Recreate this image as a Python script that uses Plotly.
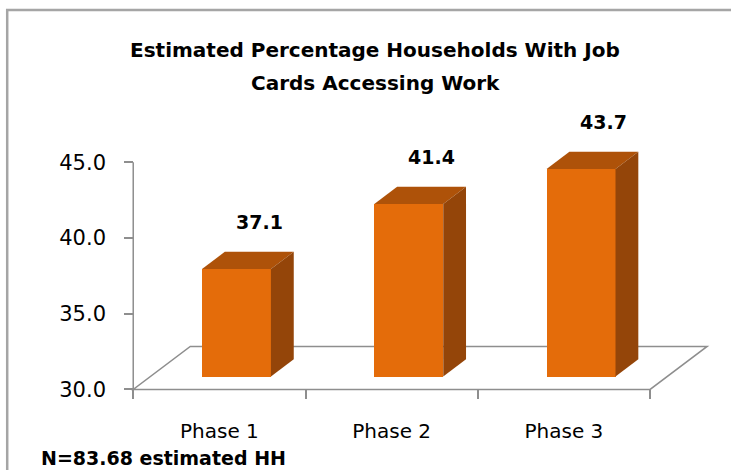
import plotly.graph_objects as go

# ---- data -------------------------------------------------------------
categories = ["Phase 1", "Phase 2", "Phase 3"]
values = [37.1, 41.4, 43.7]
y_tick_values = [30, 35, 40, 45]
y_tick_labels = ["30.0", "35.0", "40.0", "45.0"]
title_lines = ["Estimated Percentage Households With Job", "Cards Accessing Work"]
note_text = "N=83.68 estimated HH"

# ---- layout constants -------------------------------------------------
W, H = 731, 470
X_RANGE = [-0.6, 2.9]
Y_RANGE = [29.5, 47.0]
M_L, M_R, M_T, M_B = 115.8, 12.2, 131.8, 73.4
BASE = 30.0            # value where the floor sits
DEPTH_X = 0.331        # floor depth, category units
DEPTH_Y = 2.84         # floor depth, value units
BAR_W = 0.4
FRONT, BACK = 0.3, 0.7  # bar front/back planes as share of floor depth

FRONT_COL = "#E46C0A"
TOP_COL = "#AE5209"
SIDE_COL = "#944509"
AXIS_COL = "#8E8E8E"
FONT = "DejaVu Sans"

plot_w = W - M_L - M_R
plot_h = H - M_T - M_B


def paper_x(px):
    return (px - M_L) / plot_w


def paper_y(py):
    return (H - M_B - py) / plot_h


x_lo = -0.5
x_hi = len(categories) - 0.5

fig = go.Figure()

# front faces of the bars, pushed into the floor by the front-plane offset
fig.add_trace(go.Bar(
    x=[i + FRONT * DEPTH_X for i in range(len(categories))],
    y=[v - BASE for v in values],
    base=BASE + FRONT * DEPTH_Y,
    width=BAR_W,
    marker=dict(color=FRONT_COL, line=dict(width=0)),
    hovertext=[f"{c}: {v}" for c, v in zip(categories, values)],
    hoverinfo="text",
    showlegend=False,
))

shapes = []

# floor parallelogram
floor_path = (f"M {x_lo},{BASE} L {x_hi},{BASE} "
              f"L {x_hi + DEPTH_X},{BASE + DEPTH_Y} L {x_lo + DEPTH_X},{BASE + DEPTH_Y} Z")
shapes.append(dict(type="path", path=floor_path, xref="x", yref="y", layer="below",
                   line=dict(color=AXIS_COL, width=1.5), fillcolor="rgba(0,0,0,0)"))

# value axis line
shapes.append(dict(type="line", xref="x", yref="y", x0=x_lo, x1=x_lo,
                   y0=BASE, y1=y_tick_values[-1], layer="below",
                   line=dict(color=AXIS_COL, width=1.5)))

# top and side faces of each bar
ddx = (BACK - FRONT) * DEPTH_X
ddy = (BACK - FRONT) * DEPTH_Y
annotations = []
for i, v in enumerate(values):
    xl = i + FRONT * DEPTH_X - BAR_W / 2
    xr = xl + BAR_W
    yb = BASE + FRONT * DEPTH_Y
    yt = v + FRONT * DEPTH_Y
    top = (f"M {xl},{yt} L {xr},{yt} L {xr + ddx},{yt + ddy} "
           f"L {xl + ddx},{yt + ddy} Z")
    side = (f"M {xr},{yb} L {xr},{yt} L {xr + ddx},{yt + ddy} "
            f"L {xr + ddx},{yb + ddy} Z")
    shapes.append(dict(type="path", path=top, xref="x", yref="y",
                       fillcolor=TOP_COL, line=dict(width=0)))
    shapes.append(dict(type="path", path=side, xref="x", yref="y",
                       fillcolor=SIDE_COL, line=dict(width=0)))
    annotations.append(dict(
        x=i + BACK * DEPTH_X, y=yt + ddy, xref="x", yref="y",
        text=f"<b>{v:.1f}</b>", showarrow=False, yanchor="middle", yshift=30,
        font=dict(family=FONT, size=19, color="black"),
    ))

# chart border (top and left edges visible)
shapes.append(dict(type="rect", xref="paper", yref="paper",
                   x0=paper_x(7), x1=paper_x(745), y0=paper_y(485), y1=paper_y(10),
                   line=dict(color="#A5A5A5", width=2.5), layer="below"))

# title and footnote
annotations.append(dict(xref="paper", yref="paper", x=paper_x(375), y=paper_y(50),
                        text=f"<b>{title_lines[0]}</b>", showarrow=False,
                        xanchor="center", yanchor="middle",
                        font=dict(family=FONT, size=20, color="black")))
annotations.append(dict(xref="paper", yref="paper", x=paper_x(375), y=paper_y(83),
                        text=f"<b>{title_lines[1]}</b>", showarrow=False,
                        xanchor="center", yanchor="middle",
                        font=dict(family=FONT, size=20, color="black")))
annotations.append(dict(xref="paper", yref="paper", x=paper_x(39), y=paper_y(458),
                        text=f"<b>{note_text}</b>", showarrow=False,
                        xanchor="left", yanchor="middle",
                        font=dict(family=FONT, size=19, color="black")))

x_axis_pos = (BASE - Y_RANGE[0]) / (Y_RANGE[1] - Y_RANGE[0])
y_axis_pos = (x_lo - X_RANGE[0]) / (X_RANGE[1] - X_RANGE[0])

fig.update_layout(
    width=W, height=H,
    margin=dict(l=M_L, r=M_R, t=M_T, b=M_B, pad=0, autoexpand=False),
    paper_bgcolor="white", plot_bgcolor="white",
    shapes=shapes, annotations=annotations,
    xaxis=dict(
        range=X_RANGE, anchor="free", position=x_axis_pos,
        tickmode="array", tickvals=list(range(len(categories))), ticktext=categories,
        ticks="", showline=False, showgrid=False, zeroline=False,
        tickfont=dict(family=FONT, size=20, color="black"),
        ticklabelstandoff=28,
        minor=dict(tickmode="array",
                   tickvals=[i - 0.5 for i in range(len(categories) + 1)],
                   ticks="outside", ticklen=9, tickwidth=1.5, tickcolor=AXIS_COL,
                   showgrid=False),
        fixedrange=True,
    ),
    yaxis=dict(
        range=Y_RANGE, anchor="free", position=y_axis_pos,
        tickmode="array", tickvals=y_tick_values, ticktext=y_tick_labels,
        ticks="outside", ticklen=9, tickwidth=1.5, tickcolor=AXIS_COL,
        showline=False, showgrid=False, zeroline=False,
        tickfont=dict(family=FONT, size=21, color="black"),
        ticklabelstandoff=14,
        fixedrange=True,
    ),
    bargap=0,
)

fig.write_html("out.html")
